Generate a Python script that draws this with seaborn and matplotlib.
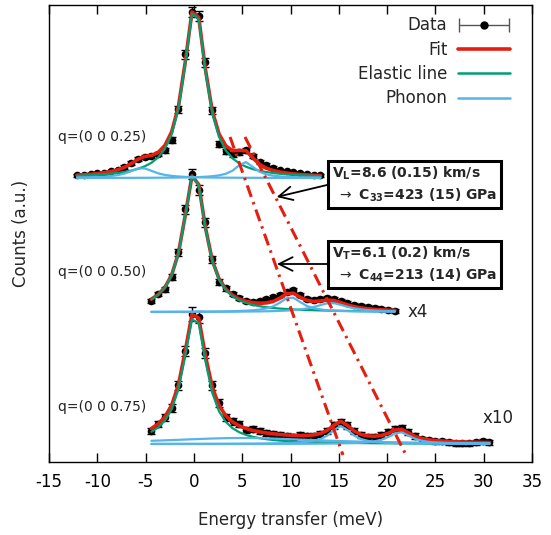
import numpy as np
import pandas as pd
import matplotlib
matplotlib.use("Agg")
import matplotlib.pyplot as plt
import seaborn as sns
from matplotlib.lines import Line2D
from matplotlib.legend_handler import HandlerErrorbar
from matplotlib.container import ErrorbarContainer

# ---------------- data ----------------
q_labels = ["q=(0 0 0.25)", "q=(0 0 0.50)", "q=(0 0 0.75)"]
scale_labels = ["", "x4", "x10"]
offsets = [284, 150, 18]

E1 = [-12.1, -11.4, -10.7, -10.0, -9.3, -8.6, -7.9, -7.2, -6.5, -5.8,
      -5.1, -4.4, -3.7, -3.0, -2.3, -1.6, -0.9, -0.2, 0.5, 1.2,
      1.9, 2.6, 3.3, 4.0, 4.7, 5.4, 6.1, 6.8, 7.5, 8.2,
      8.9, 9.6, 10.3, 11.0, 11.7, 12.4, 13.1]
I1 = [3, 3, 4, 5, 5, 7, 8, 11, 15, 19,
      21, 22, 24, 28, 38, 69, 124, 166, 162, 116,
      68, 34, 27, 24, 26, 28, 22, 16, 13, 10,
      8, 7, 6, 5, 4, 3, 3]
dI1 = [1.5, 1.5, 1.5, 1.5, 1.5, 1.5, 1.5, 2, 2, 2,
       2, 2, 2, 2.5, 3, 3.5, 4.5, 5, 5, 4.5,
       3.5, 3, 2.5, 2.5, 2.5, 2.5, 2, 2, 2, 2,
       1.5, 1.5, 1.5, 1.5, 1.5, 1.5, 1.5]

E2 = [-4.4, -3.7, -3.0, -2.3, -1.6, -0.9, -0.2, 0.5, 1.2, 1.9,
      2.6, 3.3, 4.0, 4.7, 5.4, 6.1, 6.8, 7.5, 8.2, 8.9,
      9.6, 10.3, 11.0, 11.7, 12.4, 13.1, 13.8, 14.5, 15.2, 15.9,
      16.6, 17.3, 18.0, 18.7, 19.4, 20.1, 20.8]
I2 = [11, 18, 23, 35, 60, 103, 138, 122, 90, 53,
      30, 24, 18, 14, 11, 10, 11, 13, 15, 17,
      20, 22, 17, 13, 12, 13, 14, 13, 11, 9,
      7, 6, 5, 4, 3, 2, 1]
dI2 = [2, 2, 2.5, 3, 3.5, 4.5, 5, 5, 4.5, 3.5,
       3, 2.5, 2, 2, 2, 2, 2, 2, 2, 2,
       2, 2, 2, 2, 2, 2, 2, 2, 2, 2,
       2, 2, 2, 2, 2, 2, 2]

E3 = [-4.4, -3.7, -3.0, -2.3, -1.6, -0.9, -0.2, 0.5, 1.2, 1.9,
      2.6, 3.3, 4.0, 4.7, 5.4, 6.1, 6.8, 7.5, 8.2, 8.9,
      9.6, 10.3, 11.0, 11.7, 12.4, 13.1, 13.8, 14.5, 15.2, 15.9,
      16.6, 17.3, 18.0, 18.7, 19.4, 20.1, 20.8, 21.5, 22.2, 22.9,
      23.6, 24.3, 25.0, 25.7, 26.4, 27.1, 27.8, 28.5, 29.2, 29.9,
      30.6]
I3 = [13, 20, 27, 36, 59, 93, 130, 127, 91, 59,
      41, 27, 23, 20, 14, 15, 13, 11, 10, 9,
      8, 7, 9, 8, 8, 10, 13, 19, 22, 19,
      13, 9, 7, 7, 9, 12, 15, 16, 12, 8,
      5, 4, 3, 3, 2, 1, 1, 1, 2, 3,
      2]
dI3 = [3, 3, 3.5, 4, 4.5, 5, 7, 6, 5, 4.5,
       4, 3.5, 3.5, 3, 3, 3, 3, 3, 3, 3,
       3, 3, 3, 3, 3, 3, 3, 3.5, 3.5, 3.5,
       3, 3, 3, 3, 3, 3, 3, 3, 3, 3,
       2.5, 2.5, 2.5, 2.5, 2.5, 2.5, 2.5, 2.5, 2.5, 2.5,
       2.5]

# fit parameters: (amplitude, centre meV, HWHM meV) of Lorentzians
elastic_par = [(172, 0.10, 1.40), (140, 0.05, 1.40), (130, 0.10, 1.45)]
phonon_par = [
    [(10, -5.4, 1.6), (16, 5.3, 1.2)],
    [(15, 10.0, 1.4), (9, 14.2, 2.0)],
    [(6, 5.0, 10.0), (18, 15.2, 1.3), (12, 21.3, 1.4)],
]

# linear-dispersion guide lines (energy, counts) end points
disp_T_E = [3.74, 15.43]
disp_T_y = [325, 7]
disp_L_E = [5.29, 21.96]
disp_L_y = [325, 7]

box_texts = [
    r"$\mathbf{V_L}$=8.6 (0.15) km/s" + "\n" + r" $\rightarrow$ $\mathbf{C_{33}}$=423 (15) GPa",
    r"$\mathbf{V_T}$=6.1 (0.2) km/s" + "\n" + r" $\rightarrow$ $\mathbf{C_{44}}$=213 (14) GPa",
]

# ---------------- style ----------------
sns.set_theme(style="white")
plt.rcParams.update({
    "font.family": ["DejaVu Sans"],
    "axes.unicode_minus": False,
    "mathtext.fontset": "dejavusans",
    "axes.edgecolor": "black",
    "axes.linewidth": 1.0,
})

RED = "#e51e10"
GREEN = "#009e73"
BLUE = "#56b4e9"


def lor(x, p):
    a, c, w = p
    x = np.asarray(x, float)
    return a / (1.0 + ((x - c) / w) ** 2)


fig = plt.figure(figsize=(5.51, 5.35), dpi=100)
ax = fig.add_axes([49 / 551, 1 - 462 / 535, (532 - 49) / 551, (462 - 5) / 535])

spectra = [(E1, I1, dI1), (E2, I2, dI2), (E3, I3, dI3)]
for k, (E, I, dI) in enumerate(spectra):
    off = offsets[k]
    E = np.asarray(E, float)
    y = np.asarray(I, float) + off
    ax.errorbar(E, y, yerr=dI, fmt="o", color="black", ms=4.5, elinewidth=1.0,
                capsize=3, capthick=1.0, zorder=2)
    el = lor(E, elastic_par[k])
    ph = [lor(E, p) for p in phonon_par[k]]
    fit = el + np.sum(ph, axis=0) + off
    df = pd.DataFrame({"E": E, "fit": fit, "el": el + off})
    sns.lineplot(data=df, x="E", y="fit", color=RED, lw=2.6, sort=False,
                 estimator=None, ax=ax, zorder=3)
    sns.lineplot(data=df, x="E", y="el", color=GREEN, lw=1.6, sort=False,
                 estimator=None, ax=ax, zorder=4)
    for p_curve in ph:
        sns.lineplot(x=E, y=p_curve + off, color=BLUE, lw=1.6, sort=False,
                     estimator=None, ax=ax, zorder=5)

# dispersion guides
for xs, ys in [(disp_T_E, disp_T_y), (disp_L_E, disp_L_y)]:
    ax.plot(xs, ys, color=RED, lw=2.2, dashes=(4.0, 1.8, 0.8, 1.8), zorder=6)

# labels
q_y = [325, 190, 55]
for lab, yy in zip(q_labels, q_y):
    ax.text(-14.1, yy, lab, fontsize=10, ha="left", va="center", color="#222222")
ax.text(22.1, 150, scale_labels[1], fontsize=12, ha="left", va="center", color="#222222")
ax.text(29.9, 44, scale_labels[2], fontsize=12, ha="left", va="center", color="#222222")

# boxes and arrows
box_y = [277.5, 197.5]
arrow_tip = [(8.57, 265), (8.6, 198)]
arrow_tail = [(13.78, 277), (13.78, 198)]
for t, yy in zip(box_texts, box_y):
    ax.text(14.3, yy, t, fontsize=10, fontweight="bold", ha="left", va="center",
            linespacing=1.35, zorder=8,
            bbox=dict(boxstyle="square,pad=0.3", fc="white", ec="black", lw=2.2))
for tip, tail in zip(arrow_tip, arrow_tail):
    ax.annotate("", xy=tip, xytext=tail, zorder=7,
                arrowprops=dict(arrowstyle="->,head_length=0.7,head_width=0.35",
                                lw=1.3, color="black", shrinkA=0, shrinkB=0,
                                mutation_scale=14))

# legend
eb = ax.errorbar([np.nan], [np.nan], xerr=[1.0], fmt="o", color="black", ms=5,
                 ecolor="#555555", elinewidth=1.0, capsize=5, capthick=1.0)
handles = [eb,
           Line2D([], [], color=RED, lw=2.6),
           Line2D([], [], color=GREEN, lw=1.8),
           Line2D([], [], color=BLUE, lw=1.8)]
labels = ["Data", "Fit", "Elastic line", "Phonon"]
ax.legend(handles, labels, loc="upper right", bbox_to_anchor=(0.954, 0.975),
          frameon=False, markerfirst=False, fontsize=12, handlelength=3.1,
          handletextpad=0.65, labelspacing=0.38, borderpad=0, borderaxespad=0,
          handler_map={ErrorbarContainer: HandlerErrorbar(xerr_size=1.5)})

ax.set_xlim(-15, 35)
ax.set_ylim(0, 457)
ax.set_xticks(np.arange(-15, 36, 5))
ax.set_yticks([])
ax.tick_params(axis="x", direction="in", top=True, bottom=True, length=6.5,
               width=1.0, labelsize=12, pad=8, colors="black")
ax.set_xlabel("Energy transfer (meV)", fontsize=12, labelpad=14)
ax.set_ylabel("Counts (a.u.)", fontsize=12, labelpad=14)
for s in ax.spines.values():
    s.set_visible(True)
    s.set_color("black")

fig.savefig("out.png", dpi=100)
